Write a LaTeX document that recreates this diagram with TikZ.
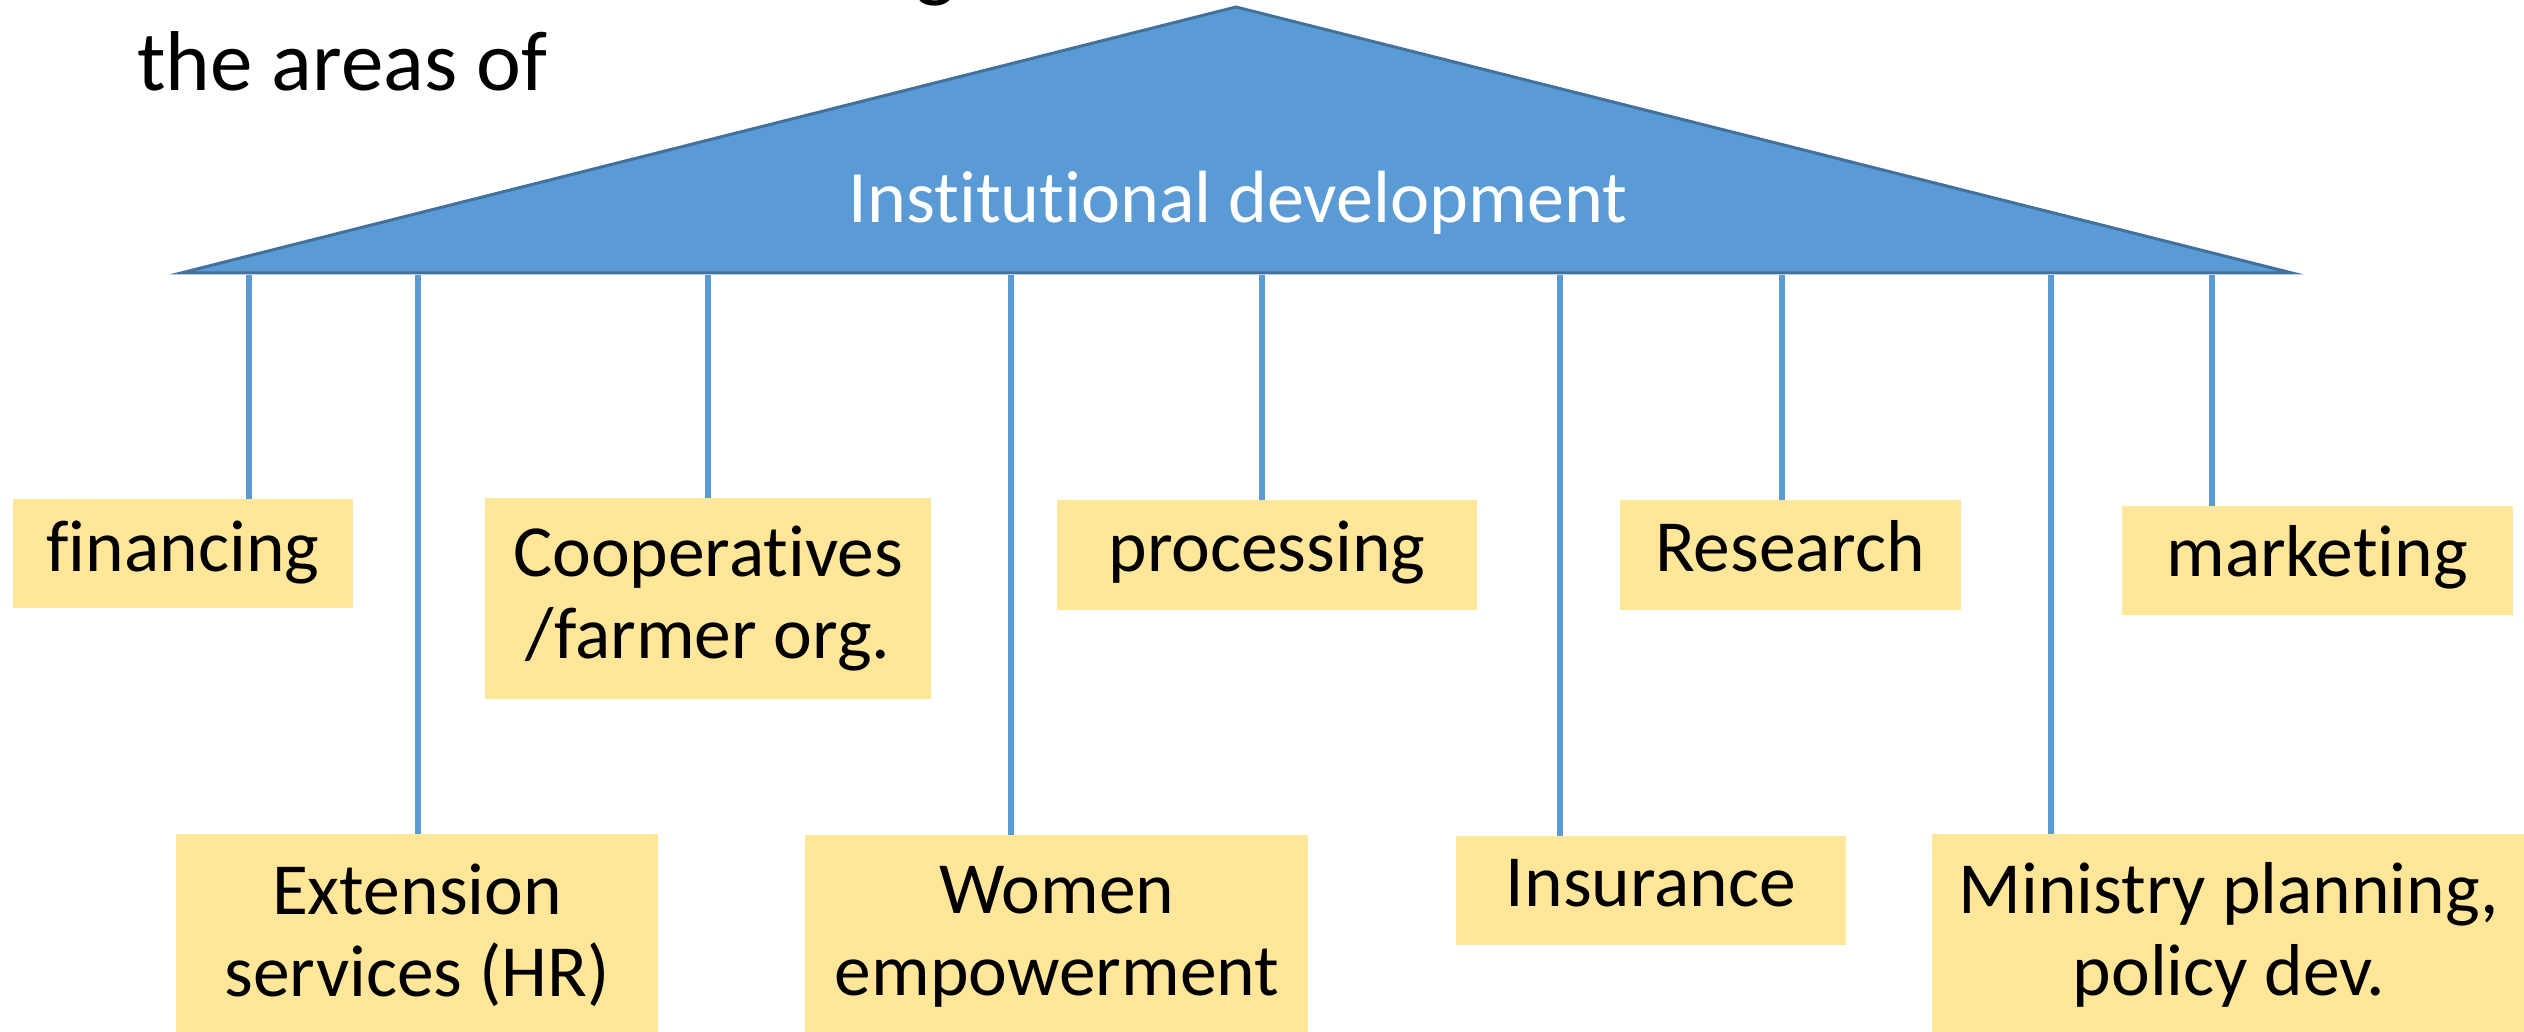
\documentclass[tikz,border=0pt]{standalone}
\usepackage{fontspec}
\setmainfont{Carlito}[Ligatures=NoCommon]
\definecolor{triblue}{HTML}{5B9BD5}
\definecolor{triedge}{HTML}{41719C}
\definecolor{boxgold}{HTML}{FFE699}
\begin{document}
\begin{tikzpicture}[x=1pt,y=-1pt,
  goldbox/.style={fill=boxgold, draw=none, inner sep=0pt, anchor=north west},
  lbl/.style={font=\fontsize{73.5}{82}\selectfont, align=center, anchor=base, inner sep=0pt},
  stem/.style={draw=triblue, line width=6pt}]
\useasboundingbox (0,0) rectangle (2524,1032);
\clip (0,0) rectangle (2524,1032);
% partially visible title line
\node[font=\fontsize{85}{100}\selectfont, anchor=base west, inner sep=0pt] (gfrag) at (915,-8) {g};
\node[font=\fontsize{85}{100}\selectfont, anchor=base west, inner sep=0pt] (areas) at (137,91) {the areas of};
% roof
\coordinate (apex) at (1236,7);
\coordinate (bl) at (181,273);
\coordinate (br) at (2292,273);
\filldraw[fill=triblue, draw=triedge, line width=3pt, line join=miter] (bl) -- (apex) -- (br) -- cycle;
\node[lbl, text=white, font=\fontsize{74}{82}\selectfont] (inst) at (1238,223) {Institutional development};
% attachment points on the roof base
\foreach \n/\x in {t1/249,t2/418,t3/708,t4/1011,t5/1262,t6/1560,t7/1782,t8/2051,t9/2212}
  \coordinate (\n) at (\x,275);
% boxes
\node[goldbox, minimum width=340pt, minimum height=109pt] (fin) at (13,499) {};
\node[goldbox, minimum width=446pt, minimum height=201pt] (coop) at (485,498) {};
\node[goldbox, minimum width=482pt, minimum height=210pt] (ext) at (176,834) {};
\node[goldbox, minimum width=503pt, minimum height=210pt] (wom) at (805,835) {};
\node[goldbox, minimum width=420pt, minimum height=110pt] (proc) at (1057,500) {};
\node[goldbox, minimum width=390pt, minimum height=109pt] (ins) at (1456,836) {};
\node[goldbox, minimum width=341pt, minimum height=110pt] (res) at (1620,500) {};
\node[goldbox, minimum width=600pt, minimum height=210pt] (mini) at (1932,834) {};
\node[goldbox, minimum width=391pt, minimum height=109pt] (mkt) at (2122,506) {};
% connectors
\draw[stem] (t1) -- (t1 |- fin.north);
\draw[stem] (t2) -- (t2 |- ext.north);
\draw[stem] (t3) -- (t3 |- coop.north);
\draw[stem] (t4) -- (t4 |- wom.north);
\draw[stem] (t5) -- (t5 |- proc.north);
\draw[stem] (t6) -- (t6 |- ins.north);
\draw[stem] (t7) -- (t7 |- res.north);
\draw[stem] (t8) -- (t8 |- mini.north);
\draw[stem] (t9) -- (t9 |- mkt.north);
% labels (multi-line: base anchor = last line)
\node[lbl] (finT) at (183,571) {financing};
\node[lbl] (coopT) at (708,658) {Cooperatives\\/farmer org.};
\node[lbl] (extT) at (417,996) {Extension\\services (HR)};
\node[lbl] (womT) at (1057,995) {Women\\empowerment};
\node[lbl] (procT) at (1267,571) {processing};
\node[lbl] (insT) at (1651,906) {Insurance};
\node[lbl] (resT) at (1790,571) {Research};
\node[lbl] (miniT) at (2229,995) {Ministry planning,\\policy dev.};
\node[lbl] (mktT) at (2317,576) {marketing};
\end{tikzpicture}
\end{document}
